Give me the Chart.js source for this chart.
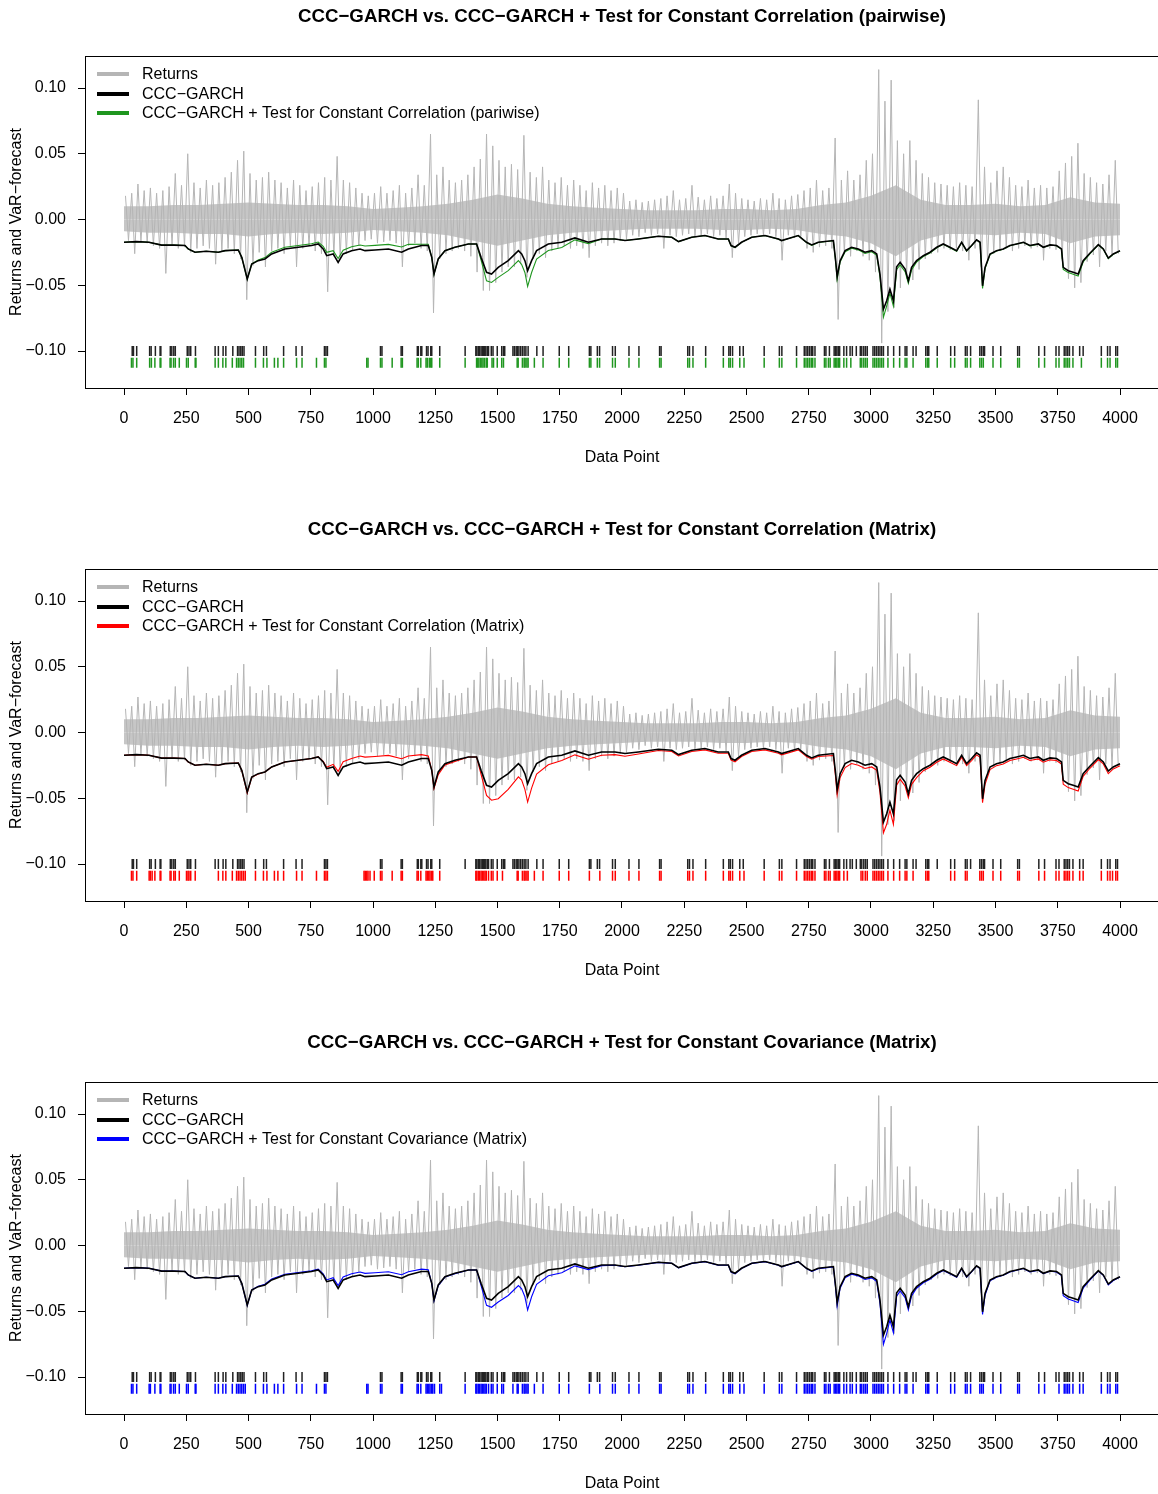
<!DOCTYPE html>
<html><head><meta charset="utf-8">
<script src="https://cdn.jsdelivr.net/npm/chart.js@4.4.0/dist/chart.umd.min.js"></script>
<style>
html,body{margin:0;padding:0;background:#fff;}
#wrap{position:relative;width:1158px;height:1494px;overflow:hidden;}
.panel{position:absolute;left:0;width:1158px;}
canvas{display:block;}
</style></head><body>
<div id="wrap">
<div class="panel" style="top:0;height:513px"><canvas id="c1" width="1158" height="513"></canvas></div>
<div class="panel" style="top:513px;height:513px"><canvas id="c2" width="1158" height="513"></canvas></div>
<div class="panel" style="top:1026px;height:468px"><canvas id="c3" width="1158" height="468"></canvas></div>
</div>
<script>
// ---------------- DATA ----------------
const xTicks = [0,250,500,750,1000,1250,1500,1750,2000,2250,2500,2750,3000,3250,3500,3750,4000];
const yTicks = [-0.10,-0.05,0.00,0.05,0.10];

// returns: per 25-point block, maximum and minimum
const BIN = 25;
const retHi = [
0.018,0.020,0.027,0.022,0.024,0.020,0.022,0.025,0.035,0.026,0.050,0.028,0.024,0.030,0.026,0.028,0.032,0.036,0.045,0.052,
0.035,0.030,0.032,0.036,0.030,0.028,0.024,0.030,0.026,0.022,0.025,0.028,0.032,0.030,0.048,0.030,0.028,0.024,
0.020,0.018,0.020,0.025,0.020,0.022,0.026,0.020,0.024,0.034,0.026,0.065,0.034,0.040,0.030,0.028,0.030,0.034,0.040,0.046,
0.065,0.056,0.045,0.040,0.042,0.038,0.064,0.036,0.032,0.040,0.030,0.028,0.032,0.026,0.030,0.026,0.022,0.028,0.024,0.026,
0.022,0.024,0.020,
0.014,0.015,0.013,0.014,0.015,0.016,0.018,0.022,0.015,0.016,
0.026,0.017,0.015,0.018,0.016,0.018,0.027,0.020,0.016,0.015,
0.014,0.016,0.015,0.020,0.016,0.015,0.018,0.019,0.022,0.024,
0.030,0.022,0.024,0.062,0.030,0.037,0.030,0.034,0.045,0.050,
0.114,0.090,0.106,0.060,0.050,0.060,0.045,0.035,0.032,0.028,
0.027,0.026,0.025,0.028,0.026,0.025,0.091,0.040,0.028,0.037,
0.040,0.032,0.026,0.025,0.030,0.024,0.026,0.024,0.025,0.037,
0.043,0.048,0.058,0.035,0.032,0.028,0.027,0.034,0.045];
const retLo = [
-0.016,-0.026,-0.017,-0.018,-0.020,-0.022,-0.041,-0.020,-0.022,-0.021,-0.025,-0.022,-0.020,-0.022,-0.034,-0.024,-0.022,-0.026,-0.030,-0.061,
-0.035,-0.025,-0.036,-0.024,-0.022,-0.026,-0.020,-0.036,-0.022,-0.020,-0.024,-0.026,-0.055,-0.028,-0.030,-0.026,-0.024,-0.020,
-0.016,-0.015,-0.018,-0.017,-0.016,-0.018,-0.036,-0.020,-0.018,-0.022,-0.024,-0.071,-0.030,-0.026,-0.024,-0.022,-0.024,-0.028,-0.040,-0.054,
-0.054,-0.048,-0.040,-0.036,-0.036,-0.034,-0.044,-0.030,-0.026,-0.029,-0.024,-0.022,-0.020,-0.022,-0.020,-0.022,-0.029,-0.020,-0.018,-0.020,
-0.018,-0.016,-0.015,
-0.012,-0.013,-0.010,-0.012,-0.011,-0.022,-0.012,-0.013,-0.012,-0.011,
-0.013,-0.012,-0.011,-0.013,-0.012,-0.014,-0.029,-0.018,-0.013,-0.012,
-0.011,-0.012,-0.011,-0.013,-0.031,-0.012,-0.014,-0.013,-0.022,-0.025,
-0.021,-0.020,-0.022,-0.076,-0.026,-0.028,-0.024,-0.028,-0.031,-0.040,
-0.094,-0.070,-0.067,-0.052,-0.045,-0.046,-0.038,-0.030,-0.026,-0.025,
-0.022,-0.023,-0.022,-0.024,-0.031,-0.022,-0.036,-0.032,-0.026,-0.024,
-0.022,-0.024,-0.022,-0.020,-0.022,-0.021,-0.031,-0.022,-0.023,-0.030,
-0.045,-0.052,-0.048,-0.032,-0.027,-0.036,-0.024,-0.028,-0.026];

// dense central band of the returns, every 100 points
const coreIdx = [0,100,200,300,400,500,600,700,800,900,1000,1100,1200,1300,1400,1500,1600,1700,1800,1900,2000,
2100,2200,2300,2400,2500,2600,2700,2800,2900,3000,3100,3200,3300,3400,3500,3600,3700,3800,3900,4000];
const coreHi = [0.010,0.010,0.011,0.011,0.012,0.013,0.012,0.011,0.011,0.010,0.008,0.009,0.010,0.012,0.015,0.019,0.016,0.012,0.010,0.009,0.008,
0.007,0.007,0.007,0.008,0.008,0.007,0.008,0.011,0.013,0.018,0.026,0.015,0.011,0.011,0.012,0.010,0.011,0.017,0.013,0.012];
const coreLo = [-0.009,-0.010,-0.010,-0.011,-0.011,-0.013,-0.011,-0.010,-0.011,-0.010,-0.008,-0.009,-0.010,-0.012,-0.016,-0.020,-0.016,-0.012,-0.010,-0.009,-0.008,
-0.007,-0.007,-0.007,-0.008,-0.008,-0.007,-0.008,-0.011,-0.013,-0.018,-0.028,-0.016,-0.011,-0.011,-0.012,-0.010,-0.011,-0.018,-0.013,-0.012];

// VaR forecasts
const varIdx = [0,50,100,151,200,245,258,285,330,379,
406,459,473,495,513,539,566,593,646,700,
753,780,800,814,840,860,880,914,948,968,
1008,1062,1115,1142,1195,1222,1236,1245,1262,1289,
1329,1383,1416,1434,1456,1476,1503,1543,1584,1597,
1610,1621,1637,1657,1704,1758,1811,1865,1918,1972,
2012,2066,2146,2200,2227,2280,2333,2386,2427,2438,
2454,2480,2521,2574,2628,2641,2708,2741,2762,2788,
2849,2858,2864,2876,2896,2922,2949,2976,3003,3023,
3036,3050,3063,3076,3090,3103,3117,3137,3150,3163,
3183,3210,3237,3264,3290,3317,3344,3364,3384,3404,
3424,3438,3444,3448,3458,3478,3504,3531,3558,3585,
3612,3638,3672,3692,3719,3745,3765,3772,3792,3812,
3832,3852,3879,3913,3933,3953,3973,4000];
const varCCC = [-0.0173,-0.0168,-0.0173,-0.0195,-0.0195,-0.0198,-0.0224,-0.0249,-0.0242,-0.0249,
-0.0237,-0.0232,-0.0288,-0.0453,-0.0338,-0.0313,-0.0300,-0.0262,-0.0224,-0.0211,
-0.0198,-0.0186,-0.0224,-0.0275,-0.0262,-0.0326,-0.0262,-0.0237,-0.0224,-0.0237,
-0.0232,-0.0224,-0.0249,-0.0224,-0.0198,-0.0198,-0.0288,-0.0415,-0.0300,-0.0237,
-0.0211,-0.0186,-0.0186,-0.0288,-0.0402,-0.0415,-0.0364,-0.0313,-0.0237,-0.0262,
-0.0313,-0.0389,-0.0313,-0.0237,-0.0186,-0.0173,-0.0140,-0.0173,-0.0148,-0.0148,
-0.0160,-0.0148,-0.0127,-0.0135,-0.0168,-0.0135,-0.0122,-0.0148,-0.0148,-0.0198,
-0.0211,-0.0173,-0.0135,-0.0122,-0.0148,-0.0160,-0.0122,-0.0173,-0.0193,-0.0173,
-0.0160,-0.0313,-0.0435,-0.0313,-0.0237,-0.0211,-0.0224,-0.0249,-0.0237,-0.0262,
-0.0415,-0.0682,-0.0618,-0.0530,-0.0618,-0.0360,-0.0326,-0.0377,-0.0466,-0.0364,
-0.0313,-0.0275,-0.0249,-0.0211,-0.0186,-0.0211,-0.0237,-0.0173,-0.0237,-0.0198,
-0.0155,-0.0173,-0.0364,-0.0504,-0.0364,-0.0262,-0.0237,-0.0224,-0.0198,-0.0186,
-0.0173,-0.0198,-0.0186,-0.0211,-0.0193,-0.0198,-0.0224,-0.0364,-0.0389,-0.0402,
-0.0415,-0.0313,-0.0257,-0.0191,-0.0224,-0.0293,-0.0262,-0.0237];
const varPair = [-0.0173,-0.0168,-0.0173,-0.0195,-0.0195,-0.0198,-0.0224,-0.0249,-0.0242,-0.0249,
-0.0237,-0.0232,-0.0288,-0.0453,-0.0338,-0.0308,-0.0290,-0.0249,-0.0211,-0.0198,
-0.0185,-0.0171,-0.0204,-0.0250,-0.0237,-0.0296,-0.0234,-0.0207,-0.0194,-0.0202,
-0.0197,-0.0189,-0.0209,-0.0189,-0.0188,-0.0188,-0.0288,-0.0415,-0.0300,-0.0237,
-0.0211,-0.0186,-0.0186,-0.0308,-0.0466,-0.0479,-0.0440,-0.0389,-0.0313,-0.0342,
-0.0403,-0.0509,-0.0403,-0.0301,-0.0236,-0.0213,-0.0155,-0.0183,-0.0148,-0.0148,
-0.0160,-0.0148,-0.0127,-0.0135,-0.0168,-0.0135,-0.0122,-0.0148,-0.0148,-0.0200,
-0.0213,-0.0174,-0.0135,-0.0122,-0.0149,-0.0161,-0.0122,-0.0175,-0.0196,-0.0175,
-0.0162,-0.0323,-0.0455,-0.0323,-0.0245,-0.0218,-0.0231,-0.0257,-0.0245,-0.0272,
-0.0435,-0.0742,-0.0658,-0.0560,-0.0658,-0.0380,-0.0346,-0.0397,-0.0486,-0.0384,
-0.0323,-0.0282,-0.0255,-0.0215,-0.0189,-0.0214,-0.0241,-0.0175,-0.0241,-0.0200,
-0.0156,-0.0175,-0.0374,-0.0524,-0.0374,-0.0267,-0.0240,-0.0226,-0.0200,-0.0187,
-0.0174,-0.0200,-0.0187,-0.0213,-0.0195,-0.0200,-0.0227,-0.0379,-0.0404,-0.0417,
-0.0430,-0.0323,-0.0262,-0.0193,-0.0226,-0.0298,-0.0265,-0.0239];
const varMatrix = [-0.0173,-0.0168,-0.0173,-0.0195,-0.0195,-0.0198,-0.0224,-0.0249,-0.0242,-0.0249,
-0.0237,-0.0232,-0.0288,-0.0460,-0.0340,-0.0315,-0.0300,-0.0262,-0.0224,-0.0211,
-0.0198,-0.0186,-0.0220,-0.0265,-0.0242,-0.0296,-0.0222,-0.0197,-0.0179,-0.0187,
-0.0182,-0.0174,-0.0199,-0.0179,-0.0168,-0.0178,-0.0288,-0.0425,-0.0320,-0.0247,
-0.0221,-0.0186,-0.0186,-0.0318,-0.0478,-0.0515,-0.0504,-0.0433,-0.0337,-0.0362,
-0.0433,-0.0529,-0.0423,-0.0317,-0.0246,-0.0213,-0.0170,-0.0203,-0.0173,-0.0168,
-0.0180,-0.0163,-0.0137,-0.0145,-0.0178,-0.0145,-0.0132,-0.0158,-0.0158,-0.0210,
-0.0223,-0.0183,-0.0145,-0.0132,-0.0158,-0.0170,-0.0132,-0.0183,-0.0203,-0.0183,
-0.0175,-0.0343,-0.0475,-0.0343,-0.0267,-0.0236,-0.0249,-0.0274,-0.0262,-0.0287,
-0.0455,-0.0762,-0.0698,-0.0590,-0.0698,-0.0400,-0.0356,-0.0407,-0.0496,-0.0394,
-0.0343,-0.0290,-0.0264,-0.0226,-0.0201,-0.0226,-0.0252,-0.0188,-0.0252,-0.0213,
-0.0170,-0.0188,-0.0394,-0.0534,-0.0394,-0.0282,-0.0252,-0.0239,-0.0213,-0.0201,
-0.0188,-0.0213,-0.0201,-0.0226,-0.0208,-0.0213,-0.0239,-0.0394,-0.0419,-0.0432,
-0.0445,-0.0333,-0.0272,-0.0206,-0.0239,-0.0313,-0.0277,-0.0252];
const varCov = [-0.0173,-0.0168,-0.0173,-0.0195,-0.0195,-0.0198,-0.0224,-0.0249,-0.0242,-0.0249,
-0.0237,-0.0232,-0.0288,-0.0455,-0.0338,-0.0310,-0.0295,-0.0255,-0.0218,-0.0205,
-0.0192,-0.0180,-0.0215,-0.0262,-0.0245,-0.0305,-0.0240,-0.0215,-0.0202,-0.0212,
-0.0207,-0.0200,-0.0222,-0.0200,-0.0180,-0.0185,-0.0290,-0.0420,-0.0305,-0.0240,
-0.0214,-0.0186,-0.0186,-0.0305,-0.0455,-0.0470,-0.0430,-0.0380,-0.0305,-0.0330,
-0.0390,-0.0490,-0.0390,-0.0295,-0.0230,-0.0208,-0.0155,-0.0183,-0.0153,-0.0150,
-0.0162,-0.0150,-0.0128,-0.0136,-0.0170,-0.0136,-0.0123,-0.0149,-0.0150,-0.0202,
-0.0215,-0.0175,-0.0136,-0.0123,-0.0150,-0.0162,-0.0123,-0.0176,-0.0197,-0.0176,
-0.0163,-0.0325,-0.0460,-0.0325,-0.0245,-0.0218,-0.0231,-0.0258,-0.0246,-0.0275,
-0.0440,-0.0752,-0.0670,-0.0565,-0.0665,-0.0385,-0.0345,-0.0397,-0.0490,-0.0384,
-0.0325,-0.0283,-0.0256,-0.0217,-0.0190,-0.0215,-0.0242,-0.0176,-0.0242,-0.0201,
-0.0157,-0.0176,-0.0380,-0.0525,-0.0378,-0.0268,-0.0241,-0.0227,-0.0201,-0.0188,
-0.0175,-0.0201,-0.0188,-0.0214,-0.0196,-0.0201,-0.0228,-0.0382,-0.0407,-0.0420,
-0.0433,-0.0325,-0.0263,-0.0194,-0.0227,-0.0300,-0.0266,-0.0240];

// VaR exceedances (data points where returns fall below the forecast)
const excCCC = [33,38,51,103,109,126,145,148,186,192,200,206,254,261,268,287,366,379,398,409,437,456,462,469,475,482,528,561,572,641,691,715,805,811,817,
1030,1036,1113,1118,1178,1182,1192,1196,1215,1221,1232,1236,1268,1370,1413,1417,1423,1428,1434,1439,1443,1448,1453,1459,1464,1475,1482,1499,1517,1524,1529,
1562,1568,1575,1580,1586,1593,1600,1607,1614,1623,1658,1683,1748,1786,1869,1875,1901,1910,1962,1973,
2028,2068,2151,2157,2264,2271,2285,2336,2407,2429,2435,2444,2473,2487,2571,2632,2642,2701,2732,2739,2746,2753,2760,2766,2775,2813,2819,2833,2852,2858,2863,2869,2874,
2891,2902,2916,2925,2941,2957,2963,2971,2978,2985,3008,3015,3022,3029,3036,3043,3050,3068,3091,3115,3137,3144,3169,3181,3220,3227,3232,3266,3320,3336,3379,3386,3400,
3437,3444,3451,3456,3490,3521,3589,3596,3674,3697,3743,3755,3776,3783,3790,3797,3811,3838,3852,3925,3950,3960,3983,3990];
const excPair = [30,36,51,103,110,124,145,148,185,189,199,206,222,251,258,286,289,366,379,397,409,435,452,459,466,473,480,528,560,574,604,618,641,693,715,773,805,811,
975,980,1030,1036,1077,1113,1118,1177,1182,1192,1213,1218,1226,1232,1236,1268,1370,1416,1420,1425,1431,1437,1442,1448,1455,1459,1478,1484,1499,1517,1524,
1579,1583,1600,1607,1611,1618,1623,1648,1683,1748,1786,1869,1875,1901,1910,1962,1973,
2028,2068,2151,2157,2264,2271,2285,2336,2407,2429,2435,2444,2473,2490,2571,2632,2642,2701,2732,2739,2746,2753,2760,2766,2775,2813,2819,2829,2836,2852,2858,2863,2869,2874,
2891,2902,2919,2957,2963,2971,2978,2985,3008,3015,3022,3029,3036,3043,3050,3068,3091,3115,3137,3144,3169,3220,3227,3232,3266,3320,3336,3379,3386,3400,
3437,3444,3451,3490,3521,3589,3596,3674,3697,3743,3755,3776,3783,3790,3797,3811,3845,3925,3950,3960,3983,3990];
const excMatrix = [30,36,51,101,106,113,124,145,148,185,189,200,206,222,251,257,261,268,286,379,397,409,435,452,459,466,473,480,487,528,560,574,604,618,641,693,715,773,805,811,817,
964,969,975,980,988,1005,1030,1036,1077,1113,1118,1177,1182,1192,1213,1218,1224,1229,1235,1240,1268,1413,1417,1423,1428,1434,1439,1445,1450,1455,1464,1475,1482,1499,1520,
1579,1583,1600,1607,1611,1618,1623,1648,1683,1748,1786,1869,1911,1962,1973,
2028,2068,2151,2157,2264,2271,2285,2336,2407,2429,2435,2444,2473,2490,2571,2632,2642,2701,2732,2739,2746,2753,2760,2766,2775,2813,2819,2829,2836,2852,2858,2863,2869,2874,
2891,2905,2960,2967,2977,2985,3008,3015,3022,3029,3036,3043,3050,3068,3091,3115,3137,3144,3169,3220,3227,3232,3320,3336,3379,3386,
3437,3444,3451,3490,3521,3589,3596,3674,3697,3743,3755,3776,3783,3790,3797,3811,3838,3852,3925,3950,3960,3970,3983,3990];
const excCov = [30,36,51,101,106,124,145,148,185,189,199,206,222,251,258,286,289,366,379,397,409,435,452,459,466,473,480,487,528,560,574,604,618,641,693,715,773,805,811,
975,980,1030,1036,1113,1118,1177,1182,1192,1213,1218,1224,1229,1235,1240,1247,1268,1275,1370,1413,1417,1423,1428,1434,1439,1445,1450,1455,1464,1475,1482,1499,1517,1524,
1562,1579,1583,1600,1607,1611,1618,1623,1648,1683,1748,1786,1869,1911,1962,1973,
2028,2068,2151,2157,2264,2271,2285,2336,2407,2429,2435,2444,2473,2490,2571,2632,2642,2701,2732,2739,2746,2753,2760,2766,2775,2813,2819,2829,2836,2852,2858,2863,2869,2874,
2891,2902,2916,2925,2941,2957,2963,2971,2978,2985,3008,3015,3022,3029,3036,3043,3050,3068,3091,3115,3137,3144,3169,3220,3227,3232,3266,3320,3336,3379,3386,3400,
3437,3444,3451,3490,3521,3589,3596,3674,3697,3755,3776,3783,3790,3797,3811,3838,3852,3925,3950,3960,3983,3990];
const excRowY = [-0.100, -0.109];

// ---------------- DRAWING ----------------
const FONT = '"Liberation Sans", Arial, Helvetica, sans-serif';
const GREY = '#b5b5b5';
// where the axis ends must land on the canvas (layout, not data)
const AX = {x0: 124, x1: 1120, yTop: 88, yBot: 351, boxRight: 1160};

function panel(canvasId, H, title, legendLabel, color, varOther, excOther) {
  const zig = [];
  for (let i = 0; i < retHi.length; i++) {
    zig.push({x: i * BIN + 6, y: retHi[i]});
    zig.push({x: i * BIN + 18, y: retLo[i]});
  }
  const xy = (xs, ys) => xs.map((x, i) => ({x: x, y: ys[i]}));
  const row = (xs, y) => xs.map(x => ({x: x, y: y}));
  const decor = {
    id: 'decor',
    afterDraw(chart) {
      const ctx = chart.ctx, a = chart.chartArea;
      ctx.save();
      ctx.strokeStyle = '#000'; ctx.lineWidth = 1;
      ctx.strokeRect(Math.round(a.left) + 0.5, Math.round(a.top) + 0.5, AX.boxRight - a.left, Math.round(a.bottom - a.top));
      ctx.fillStyle = '#000';
      ctx.textAlign = 'center'; ctx.textBaseline = 'middle';
      ctx.font = 'bold 18.7px ' + FONT;
      ctx.fillText(title, 622, 17);
      ctx.font = '16px ' + FONT;
      ctx.fillText('Data Point', 622, 458);
      ctx.save();
      ctx.translate(17, (a.top + a.bottom) / 2);
      ctx.rotate(-Math.PI / 2);
      ctx.fillText('Returns and VaR\u2212forecast', 0, 0);
      ctx.restore();
      const items = [['Returns', GREY], ['CCC\u2212GARCH', '#000'], [legendLabel, color]];
      const ys = [74, 94, 113];
      ctx.textAlign = 'left';
      items.forEach((it, k) => {
        ctx.strokeStyle = it[1]; ctx.lineWidth = 4;
        ctx.beginPath(); ctx.moveTo(97, ys[k]); ctx.lineTo(129, ys[k]); ctx.stroke();
        ctx.fillText(it[0], 142, ys[k] + 1);
      });
      ctx.restore();
    }
  };
  const tickFont = {family: FONT, size: 16};
  const ch = new Chart(document.getElementById(canvasId), {
    type: 'line',
    data: {datasets: [
      {data: row(excCCC, excRowY[0]), showLine: false, pointStyle: 'line', pointRotation: 90, pointRadius: 5,
       pointBorderWidth: 1.5, pointBorderColor: '#222', borderColor: '#222', order: 0},
      {data: row(excOther, excRowY[1]), showLine: false, pointStyle: 'line', pointRotation: 90, pointRadius: 5,
       pointBorderWidth: 1.5, pointBorderColor: color, borderColor: color, order: 0},
      {data: xy(varIdx, varCCC), borderColor: '#000', borderWidth: 1.6, pointRadius: 0, order: 1},
      {data: xy(varIdx, varOther), borderColor: color, borderWidth: 1.1, pointRadius: 0, order: 2},
      {data: zig, borderColor: GREY, borderWidth: 1, pointRadius: 0, order: 3},
      {data: xy(coreIdx, coreHi), fill: 'origin', backgroundColor: '#c6c6c6', borderWidth: 0, pointRadius: 0, order: 4},
      {data: xy(coreIdx, coreLo), fill: 'origin', backgroundColor: '#c6c6c6', borderWidth: 0, pointRadius: 0, order: 4}
    ]},
    options: {
      responsive: false, animation: false, devicePixelRatio: 1,
      layout: {padding: {top: 56, left: 0, right: 0, bottom: 0}},
      elements: {line: {tension: 0}},
      plugins: {legend: {display: false}, tooltip: {enabled: false}, title: {display: false}},
      scales: {
        x: {type: 'linear', min: -156.6, max: 4152.6,
            afterFit(s) { s.height = H - 388; },
            afterBuildTicks(s) { s.ticks = xTicks.map(v => ({value: v})); },
            ticks: {font: tickFont, color: '#000', padding: 14, maxRotation: 0, autoSkip: false,
                    callback: v => String(v)},
            grid: {drawOnChartArea: false, drawTicks: true, tickLength: 7, color: '#000', lineWidth: 1},
            border: {display: false}},
        y: {type: 'linear', min: -0.12901, max: 0.12443,
            afterFit(s) { s.width = 85; },
            afterBuildTicks(s) { s.ticks = yTicks.map(v => ({value: v})); },
            ticks: {font: tickFont, color: '#000', padding: 12, autoSkip: false,
                    callback: v => v.toFixed(2).replace('-', '\u2212')},
            grid: {drawOnChartArea: false, drawTicks: true, tickLength: 7, color: '#000', lineWidth: 1},
            border: {display: false}}
      }
    },
    plugins: [decor]
  });
  // second pass: fit the axis ranges to the laid-out plot area (R-style 4% padding)
  const a = ch.chartArea;
  const kx = (AX.x1 - AX.x0) / (xTicks[xTicks.length - 1] - xTicks[0]);
  ch.options.scales.x.min = xTicks[0] - (AX.x0 - a.left) / kx;
  ch.options.scales.x.max = xTicks[0] + (a.right - AX.x0) / kx;
  const ky = (AX.yBot - AX.yTop) / (yTicks[yTicks.length - 1] - yTicks[0]);
  ch.options.scales.y.max = yTicks[yTicks.length - 1] + (AX.yTop - a.top) / ky;
  ch.options.scales.y.min = yTicks[0] - (a.bottom - AX.yBot) / ky;
  ch.update('none');
}

panel('c1', 513, 'CCC\u2212GARCH vs. CCC\u2212GARCH + Test for Constant Correlation (pairwise)',
      'CCC\u2212GARCH + Test for Constant Correlation (pariwise)', '#1f961f', varPair, excPair);
panel('c2', 513, 'CCC\u2212GARCH vs. CCC\u2212GARCH + Test for Constant Correlation (Matrix)',
      'CCC\u2212GARCH + Test for Constant Correlation (Matrix)', '#ff0000', varMatrix, excMatrix);
panel('c3', 468, 'CCC\u2212GARCH vs. CCC\u2212GARCH + Test for Constant Covariance (Matrix)',
      'CCC\u2212GARCH + Test for Constant Covariance (Matrix)', '#0000ff', varCov, excCov);
</script>
</body></html>
